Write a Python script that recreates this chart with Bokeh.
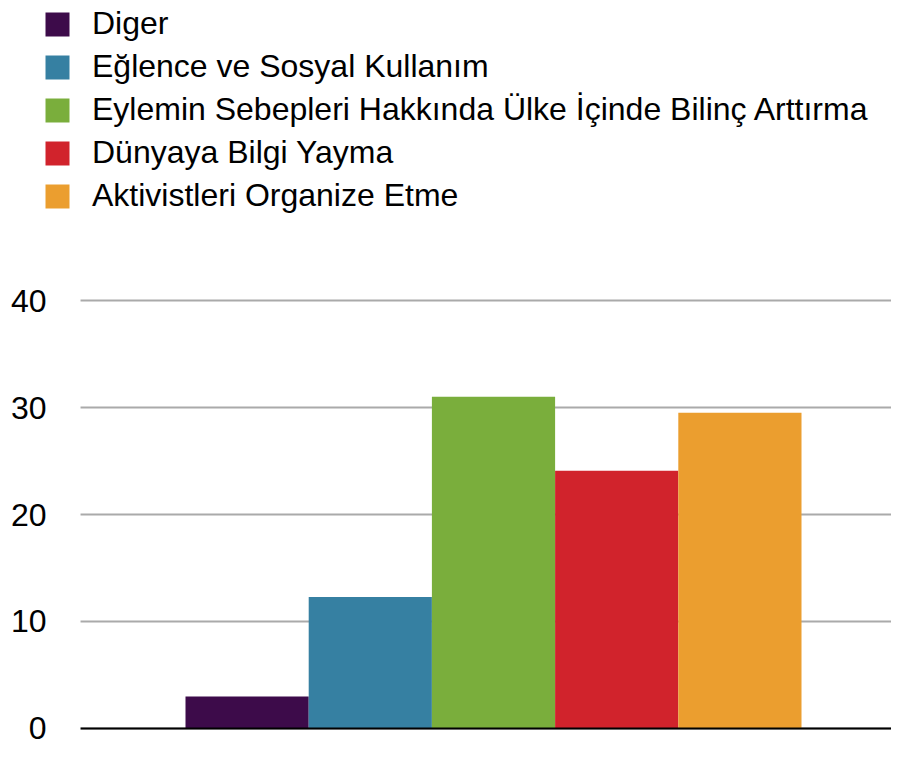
from bokeh.plotting import figure
from bokeh.models import Range1d, Legend, LegendItem, FixedTicker, Span, BoxAnnotation
from bokeh.layouts import column
from bokeh.embed import file_html
from bokeh.resources import INLINE

categories = [
    "Diger",
    "Eğlence ve Sosyal Kullanım",
    "Eylemin Sebepleri Hakkında Ülke İçinde Bilinç Arttırma",
    "Dünyaya Bilgi Yayma",
    "Aktivistleri Organize Etme",
]
values = [3.0, 12.3, 31.0, 24.1, 29.5]
colors = ["#3D0B4A", "#3680A2", "#7AAE3C", "#D1232C", "#EB9E2F"]
y_ticks = [0, 10, 20, 30, 40]

FONT = "Liberation Sans"
W = 891
LEFT = 42          # frame left edge (both figures)
X0, X1 = -1.6607, 5.2305
GRID_START = -1.352  # data x where the grid lines begin

# ---- legend figure ----
leg = figure(width=W, height=240, x_range=Range1d(0, 1), y_range=Range1d(0, 1),
             output_backend="svg", toolbar_location=None,
             x_axis_location=None, y_axis_location=None,
             min_border_left=LEFT, min_border_top=5, min_border_right=0, min_border_bottom=0)
leg.grid.visible = False
leg.outline_line_color = None
items = []
for i, (c, col) in enumerate(zip(categories, colors)):
    r = leg.vbar(x=[100 + i], top=[values[i]], bottom=[0], width=1, fill_color=col, line_color=None)
    items.append(LegendItem(label=c, renderers=[r]))
legend = Legend(items=items, location="top_left", margin=0, padding=0, spacing=6,
                glyph_width=30, glyph_height=30, label_height=30, label_standoff=20,
                label_text_font=FONT, label_text_font_size="32px", label_text_color="black",
                border_line_color=None, background_fill_alpha=0)
leg.add_layout(legend)

# ---- chart figure ----
p = figure(width=W, height=507, x_range=Range1d(X0, X1), y_range=Range1d(-1.776, 40.935),
           output_backend="svg", toolbar_location=None, x_axis_location=None,
           min_border_left=LEFT, min_border_right=0, min_border_top=50, min_border_bottom=0)
p.outline_line_color = None
p.vbar(x=list(range(len(values))), top=values, width=1, fill_color=colors, line_color=None)

p.yaxis.ticker = FixedTicker(ticks=y_ticks)
p.yaxis.axis_line_color = None
p.yaxis.major_tick_line_color = None
p.yaxis.minor_tick_line_color = None
p.yaxis.major_tick_out = 0
p.yaxis.major_tick_in = 0
p.yaxis.major_label_standoff = -4
p.yaxis.major_label_text_font = FONT
p.yaxis.major_label_text_font_size = "32px"
p.yaxis.major_label_text_color = "black"

p.xgrid.visible = False
p.ygrid.ticker = FixedTicker(ticks=y_ticks)
p.ygrid.grid_line_color = "#AAAAAA"
p.ygrid.grid_line_width = 2

p.add_layout(Span(location=0, dimension="width", line_color="black", line_width=2, level="glyph"))
# blank strip so grid lines start right of the tick labels
p.add_layout(BoxAnnotation(right=GRID_START, fill_color="white", fill_alpha=1,
                           line_color=None, level="glyph"))

layout = column(leg, p)
open("out.html", "w").write(file_html(layout, INLINE))
